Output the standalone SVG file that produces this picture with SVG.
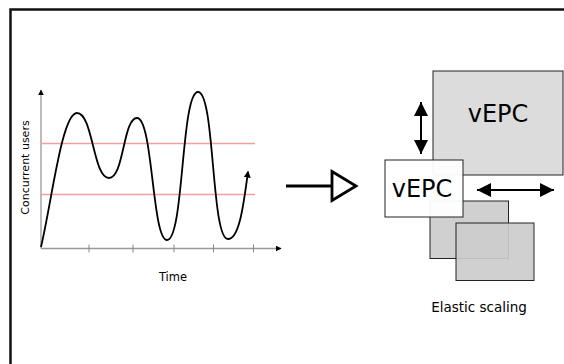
<svg xmlns="http://www.w3.org/2000/svg" width="564" height="364" viewBox="0 0 564 364">
<style>
  text { font-family: "DejaVu Sans", Verdana, sans-serif; fill: #000; }
  .axis { stroke: #999; stroke-width: 1.3; fill: none; }
  .tick { stroke: #888; stroke-width: 1; }
  .limit { stroke: #f4a0a0; stroke-width: 1.3; fill: none; }
  .curve { stroke: #000; stroke-width: 1.8; fill: none; }
  .box { stroke: #222; stroke-width: 1; }
  .dbl { stroke: #000; stroke-width: 2; fill: none; }
</style>
<defs>
  <marker id="smallhead" viewBox="0 0 10 10" refX="9" refY="5" markerWidth="6" markerHeight="6" markerUnits="userSpaceOnUse" orient="auto">
    <path d="M0,0 L10,5 L0,10 Z" fill="#000"/>
  </marker>
  <marker id="curvehead" viewBox="0 0 10 10" refX="8" refY="5" markerWidth="7" markerHeight="7" markerUnits="userSpaceOnUse" orient="auto">
    <path d="M0,0 L10,5 L0,10 Z" fill="#000"/>
  </marker>
  <marker id="bighead" viewBox="0 0 10 10" refX="10" refY="5" markerWidth="14" markerHeight="14" markerUnits="userSpaceOnUse" orient="auto-start-reverse">
    <path d="M0,0 L10,5 L0,10 Z" fill="#000"/>
  </marker>
</defs>
<rect width="564" height="364" fill="#fff"/>
<rect x="10.5" y="9.5" width="600" height="400" fill="none" stroke="#111" stroke-width="2.5"/>

<g id="chart">
  <line class="axis" x1="41" y1="248.5" x2="41" y2="90" marker-end="url(#smallhead)"/>
  <line class="axis" x1="41" y1="248.5" x2="281" y2="248.5" marker-end="url(#smallhead)"/>
  <line class="tick" x1="89" y1="244.5" x2="89" y2="252.5"/>
  <line class="tick" x1="133" y1="244.5" x2="133" y2="252.5"/>
  <line class="tick" x1="174" y1="244.5" x2="174" y2="252.5"/>
  <line class="tick" x1="213.5" y1="244.5" x2="213.5" y2="252.5"/>
  <line class="tick" x1="253.5" y1="244.5" x2="253.5" y2="252.5"/>
  <line class="limit" x1="41" y1="143.5" x2="255" y2="143.5"/>
  <line class="limit" x1="41" y1="194.5" x2="255" y2="194.5"/>
  <path class="curve" d="M41,247 C52,200 62,113 77,113 C93,113 93,178 109,178 C124,178 123,118 137,118 C153,118 152,240 167,240 C184,240 181,92 198,92 C215,92 211,239 228,239 C240,239 244,200 248,172" marker-end="url(#curvehead)"/>
  <text x="28.5" y="167.5" font-size="11" text-anchor="middle" transform="rotate(-90 28.5 167.5)">Concurrent users</text>
  <text x="173" y="281" font-size="11.5" text-anchor="middle">Time</text>
</g>

<g id="vepc-large">
  <rect class="box" x="433" y="71" width="130" height="104" fill="#dcdcdc"/>
  <text x="498" y="122" font-size="24" text-anchor="middle">vEPC</text>
</g>

<g id="scaled-copy-1">
  <rect class="box" x="430" y="201" width="78.5" height="57.5" fill="#cccccc" fill-opacity="0.92"/>
</g>

<g id="scaled-copy-2">
  <rect class="box" x="456" y="223" width="78" height="57.5" fill="#cccccc" fill-opacity="0.92"/>
</g>

<g id="vepc-small">
  <rect class="box" x="385" y="160" width="78" height="57" fill="#fff" fill-opacity="0.94"/>
  <text x="422" y="197" font-size="24" text-anchor="middle">vEPC</text>
</g>

<g id="caption">
  <text x="479" y="312" font-size="13.5" text-anchor="middle">Elastic scaling</text>
</g>

<g id="connectors">
  <line x1="286" y1="186" x2="332" y2="186" stroke="#000" stroke-width="2.8"/>
  <path d="M332,171.5 L356,186 L332,200.5 Z" fill="#fff" stroke="#000" stroke-width="2.8" stroke-linejoin="miter"/>
  <line class="dbl" x1="421" y1="102" x2="421" y2="154" marker-start="url(#bighead)" marker-end="url(#bighead)"/>
  <line class="dbl" x1="477" y1="190" x2="554" y2="190" marker-start="url(#bighead)" marker-end="url(#bighead)"/>
</g>
</svg>
